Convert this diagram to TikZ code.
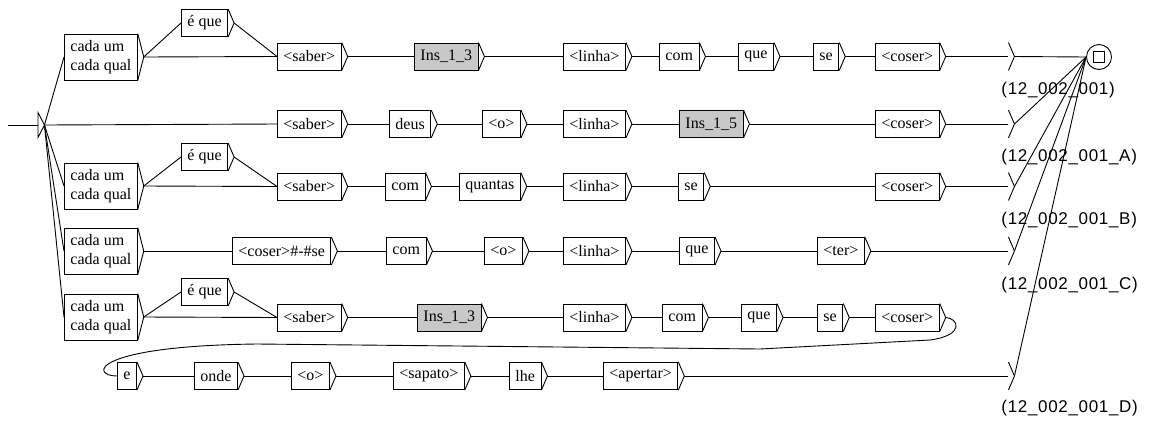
\documentclass[tikz,border=0pt]{standalone}
\usepackage{fontspec}
\setmainfont{Liberation Serif}
\newfontfamily\labelfont[LetterSpace=4]{Liberation Sans}
\usepackage{tikz}
\usetikzlibrary{calc,positioning}
\definecolor{insgray}{RGB}{200,200,200}

\begin{document}
\begin{tikzpicture}[
    x=1pt, y=-1pt, line width=0.9pt,
    box/.style={draw, rectangle, anchor=west, minimum height=27pt, inner xsep=6pt, inner ysep=0pt, font=\fontsize{16}{19}\selectfont},
    ins/.style={box, fill=insgray},
    two/.style={box, align=left, minimum height=46pt},
    endbox/.style={inner sep=0pt, minimum width=0pt, minimum height=27pt},
    lbl/.style={anchor=west, inner sep=0pt, font=\labelfont\fontsize{17}{20}\selectfont}
]
\useasboundingbox (0,0) rectangle (1153,421);

% initial and final states
\coordinate (in0) at (8,125);
\node[endbox, minimum height=24pt] (start) at (38,125) {};
\node[draw, circle, minimum size=25pt, inner sep=0pt] (final) at (1099,57) {};
\node[draw, minimum size=11pt, inner sep=0pt] (finalsq) at (final) {};

% row 1
\node[two] (r1a) at (64,57) {cada um\\cada qual};
\node[box] (r1e) at (181,23) {é que};
\node[box] (r1b) at (277,56.5) {<saber>};
\node[ins] (r1c) at (414,56.5) {Ins\_1\_3};
\node[box] (r1d) at (563,56.5) {<linha>};
\node[box] (r1f) at (659,56.5) {com};
\node[box] (r1g) at (738,56.5) {que};
\node[box] (r1h) at (813,56.5) {se};
\node[box] (r1k) at (875,56.5) {<coser>};
\node[endbox] (f1) at (1008,56.5) {};

% row 2
\node[box] (r2b) at (277,124) {<saber>};
\node[box] (r2c) at (389,124) {deus};
\node[box] (r2d) at (482,124) {<o>};
\node[box] (r2f) at (563,124) {<linha>};
\node[ins] (r2g) at (679,124) {Ins\_1\_5};
\node[box] (r2k) at (875,124) {<coser>};
\node[endbox] (f2) at (1008,124) {};

% row 3
\node[two] (r3a) at (64,186) {cada um\\cada qual};
\node[box] (r3e) at (181,157) {é que};
\node[box] (r3b) at (277,186.5) {<saber>};
\node[box] (r3c) at (385,186.5) {com};
\node[box] (r3d) at (459,186.5) {quantas};
\node[box] (r3f) at (563,186.5) {<linha>};
\node[box] (r3g) at (678,186.5) {se};
\node[box] (r3k) at (875,186.5) {<coser>};
\node[endbox] (f3) at (1008,186.5) {};

% row 4
\node[two] (r4a) at (64,251) {cada um\\cada qual};
\node[box] (r4b) at (232,251) {<coser>\#-\#se};
\node[box] (r4c) at (386,251) {com};
\node[box] (r4d) at (484,251) {<o>};
\node[box] (r4f) at (563,251) {<linha>};
\node[box] (r4g) at (679,251) {que};
\node[box] (r4k) at (817,251) {<ter>};
\node[endbox] (f4) at (1008,251) {};

% row 5
\node[two] (r5a) at (64,317) {cada um\\cada qual};
\node[box] (r5e) at (181,292) {é que};
\node[box] (r5b) at (277,317.5) {<saber>};
\node[ins] (r5c) at (417,317.5) {Ins\_1\_3};
\node[box] (r5d) at (563,317.5) {<linha>};
\node[box] (r5f) at (662,317.5) {com};
\node[box] (r5g) at (741,317.5) {que};
\node[box] (r5h) at (817,317.5) {se};
\node[box] (r5k) at (875,317.5) {<coser>};

% row 6
\node[box] (r6a) at (117,376) {e};
\node[box] (r6b) at (194,376) {onde};
\node[box] (r6c) at (291,376) {<o>};
\node[box] (r6d) at (393,376) {<sapato>};
\node[box] (r6e) at (509,376) {lhe};
\node[box] (r6f) at (603,376) {<apertar>};
\node[endbox] (f6) at (1008,376) {};

% outputs
\node[lbl] (l1) at (1001,90) {(12\_002\_001)};
\node[lbl] (l2) at (1001,157) {(12\_002\_001\_A)};
\node[lbl] (l3) at (1001,220) {(12\_002\_001\_B)};
\node[lbl] (l4) at (1001,285) {(12\_002\_001\_C)};
\node[lbl] (l6) at (1001,408) {(12\_002\_001\_D)};

% box triangles
\draw (start.north) -- ($(start.east)+(6,0)$) -- (start.south) -- cycle;
\coordinate (start-t) at ($(start.east)+(6,0)$);
\foreach \n in {r1a,r1e,r1b,r1c,r1d,r1f,r1g,r1h,r1k,f1,
                r2b,r2c,r2d,r2f,r2g,r2k,f2,
                r3a,r3e,r3b,r3c,r3d,r3f,r3g,r3k,f3,
                r4a,r4b,r4c,r4d,r4f,r4g,r4k,f4,
                r5a,r5e,r5b,r5c,r5d,r5f,r5g,r5h,r5k,
                r6a,r6b,r6c,r6d,r6e,r6f,f6} {
  \draw (\n.north east) -- ($(\n.east)+(6,0)$) -- (\n.south east);
  \coordinate (\n-t) at ($(\n.east)+(6,0)$);
}

% transitions
\draw (in0) -- (start.west);
\foreach \a/\b in {start/r1a, start/r2b, start/r3a, start/r4a, start/r5a,
                   r1a/r1e, r1a/r1b, r1e/r1b, r1b/r1c, r1c/r1d, r1d/r1f, r1f/r1g, r1g/r1h, r1h/r1k, r1k/f1,
                   r2b/r2c, r2c/r2d, r2d/r2f, r2f/r2g, r2g/r2k, r2k/f2,
                   r3a/r3e, r3a/r3b, r3e/r3b, r3b/r3c, r3c/r3d, r3d/r3f, r3f/r3g, r3g/r3k, r3k/f3,
                   r4a/r4b, r4b/r4c, r4c/r4d, r4d/r4f, r4f/r4g, r4g/r4k, r4k/f4,
                   r5a/r5e, r5a/r5b, r5e/r5b, r5b/r5c, r5c/r5d, r5d/r5f, r5f/r5g, r5g/r5h, r5h/r5k,
                   r6a/r6b, r6b/r6c, r6c/r6d, r6d/r6e, r6e/r6f, r6f/f6}
  \draw (\a-t) -- (\b.west);
\foreach \f in {f1,f2,f3,f4,f6}
  \draw (\f-t) -- (final.west);

% loop from row 5 into row 6
\draw (r5k-t) .. controls (958,318) and (966,335) .. (930,340) -- (760,349) -- (257,344)
      .. controls (90,346) and (90,376) .. (r6a.west);
\end{tikzpicture}
\end{document}
